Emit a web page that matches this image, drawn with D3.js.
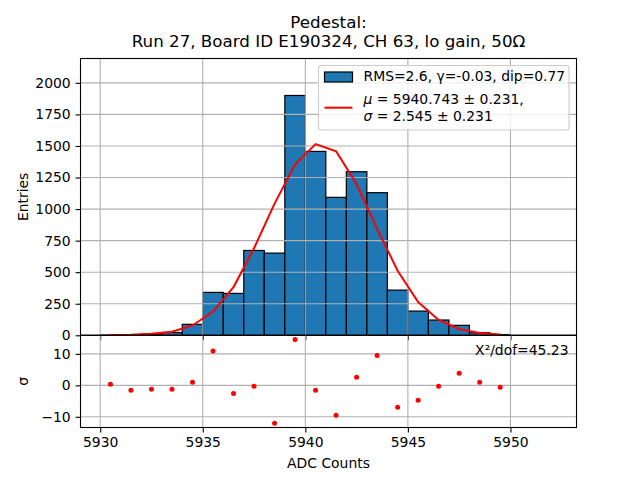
<!DOCTYPE html>
<html>
<head>
<meta charset="utf-8">
<script src="https://cdn.jsdelivr.net/npm/d3@7"></script>
<style>
  body { margin: 0; background: #fff; }
  svg { display: block; font-family: "DejaVu Sans", sans-serif; }
</style>
</head>
<body>
<svg id="chart" width="640" height="480"></svg>
<script>
// ---- data ----
const binLeft = [5930, 5931, 5932, 5933, 5934, 5935, 5936, 5937, 5938, 5939,
                 5940, 5941, 5942, 5943, 5944, 5945, 5946, 5947, 5948, 5949];
const counts  = [2, 2, 8, 22, 87, 340, 332, 672, 651, 1900,
                 1457, 1093, 1296, 1130, 358, 192, 121, 79, 20, 6];
const binCenters = [5930.5, 5931.5, 5932.5, 5933.5, 5934.5, 5935.5, 5936.5, 5937.5, 5938.5, 5939.5,
                    5940.5, 5941.5, 5942.5, 5943.5, 5944.5, 5945.5, 5946.5, 5947.5, 5948.5, 5949.5];
const fitValues = [2, 5, 13, 28, 78, 188, 382, 690, 1043, 1352,
                   1515, 1458, 1199, 843, 512, 263, 122, 50, 18, 6];
const residuals = [0.32, -1.6, -1.28, -1.28, 0.96, 10.9, -2.56, -0.3, -12.06, 14.6,
                   -1.59, -9.52, 2.54, 9.52, -6.98, -4.76, -0.32, 3.83, 0.96, -0.64];
const xTicks = [5930, 5935, 5940, 5945, 5950];
const yTopTicks = [0, 250, 500, 750, 1000, 1250, 1500, 1750, 2000];
const yBotTicks = [-10, 0, 10];
const titleLines = ["Pedestal:", "Run 27, Board ID E190324, CH 63, lo gain, 50Ω"];
const histLabel = "RMS=2.6, γ=-0.03, dip=0.77";
const chi2Label = "X²/dof=45.23";

// ---- layout ----
const L = 80.5, R = 576.5, T = 58.5, M = 335.3, B = 427.5;
const svg = d3.select("#chart");

const x = d3.scaleLinear().domain([5929.04, 5953.22]).range([L, R]);
const yTop = d3.scaleLinear().domain([0, 2193]).range([M, T]);
const yBot = d3.scaleLinear().domain([-13.4, 15.9]).range([B, M]);

const fmt = d => String(d).replace("-", "\u2212");
const gridColor = "#b0b0b0";

// ---- top panel ----
const topG = svg.append("g");
// bars
topG.selectAll("rect.bar").data(binLeft).join("rect")
  .attr("x", (d) => x(d))
  .attr("width", (d) => x(d + 1) - x(d))
  .attr("y", (d, i) => yTop(counts[i]))
  .attr("height", (d, i) => yTop(0) - yTop(counts[i]))
  .attr("fill", "#1f77b4")
  .attr("stroke", "#000")
  .attr("stroke-width", 1.2);
// grid (above patches)
topG.selectAll("line.gx").data(xTicks).join("line")
  .attr("x1", d => x(d)).attr("x2", d => x(d))
  .attr("y1", T).attr("y2", M)
  .attr("stroke", gridColor).attr("stroke-width", 1.1);
topG.selectAll("line.gy").data(yTopTicks).join("line")
  .attr("x1", L).attr("x2", R)
  .attr("y1", d => yTop(d)).attr("y2", d => yTop(d))
  .attr("stroke", gridColor).attr("stroke-width", 1.1);
// fit line
const line = d3.line().x((d, i) => x(binCenters[i])).y(d => yTop(d));
topG.append("path").datum(fitValues)
  .attr("d", line).attr("fill", "none")
  .attr("stroke", "red").attr("stroke-width", 2);

// top y axis
const axTop = d3.axisLeft(yTop).tickValues(yTopTicks).tickSize(4.9).tickPadding(4.9).tickFormat(fmt);
svg.append("g").attr("transform", `translate(${L},0)`).call(axTop)
  .call(g => g.select(".domain").remove())
  .call(g => g.selectAll("line").attr("stroke-width", 1.1))
  .call(g => g.selectAll("text").attr("font-size", 13.9).attr("font-family", "DejaVu Sans").attr("fill", "#000"));
// top x ticks (no labels)
svg.append("g").attr("transform", `translate(0,${M})`)
  .call(d3.axisBottom(x).tickValues(xTicks).tickSize(4.9).tickFormat(""))
  .call(g => g.selectAll("line").attr("stroke-width", 1.1))
  .call(g => g.select(".domain").remove());

// ---- bottom panel ----
const botG = svg.append("g");
botG.selectAll("line.gx").data(xTicks).join("line")
  .attr("x1", d => x(d)).attr("x2", d => x(d))
  .attr("y1", M).attr("y2", B)
  .attr("stroke", gridColor).attr("stroke-width", 1.1);
botG.selectAll("line.gy").data(yBotTicks).join("line")
  .attr("x1", L).attr("x2", R)
  .attr("y1", d => yBot(d)).attr("y2", d => yBot(d))
  .attr("stroke", gridColor).attr("stroke-width", 1.1);
botG.selectAll("circle").data(residuals).join("circle")
  .attr("cx", (d, i) => x(binCenters[i]))
  .attr("cy", d => yBot(d))
  .attr("r", 2.5)
  .attr("fill", "red");

svg.append("g").attr("transform", `translate(${L},0)`)
  .call(d3.axisLeft(yBot).tickValues(yBotTicks).tickSize(4.9).tickPadding(4.9).tickFormat(fmt))
  .call(g => g.select(".domain").remove())
  .call(g => g.selectAll("line").attr("stroke-width", 1.1))
  .call(g => g.selectAll("text").attr("font-size", 13.9).attr("font-family", "DejaVu Sans").attr("fill", "#000"));
svg.append("g").attr("transform", `translate(0,${B})`)
  .call(d3.axisBottom(x).tickValues(xTicks).tickSize(4.9).tickPadding(4.9).tickFormat(fmt))
  .call(g => g.select(".domain").remove())
  .call(g => g.selectAll("line").attr("stroke-width", 1.1))
  .call(g => g.selectAll("text").attr("font-size", 13.9).attr("font-family", "DejaVu Sans").attr("fill", "#000"));

// frames
svg.append("rect").attr("x", L).attr("y", T).attr("width", R - L).attr("height", M - T)
  .attr("fill", "none").attr("stroke", "#000").attr("stroke-width", 1.1);
svg.append("rect").attr("x", L).attr("y", M).attr("width", R - L).attr("height", B - M)
  .attr("fill", "none").attr("stroke", "#000").attr("stroke-width", 1.1);

// chi2 text
svg.append("text").attr("x", 568.5).attr("y", 354.5).attr("text-anchor", "end")
  .attr("font-size", 13.9).text(chi2Label);

// ---- legend ----
const lg = svg.append("g");
lg.append("rect").attr("x", 318.5).attr("y", 65.5).attr("width", 250.5).attr("height", 64.5)
  .attr("rx", 2.5).attr("fill", "#fff").attr("fill-opacity", 0.8)
  .attr("stroke", "#cccccc").attr("stroke-width", 1.1);
lg.append("rect").attr("x", 324.5).attr("y", 72).attr("width", 28).attr("height", 10)
  .attr("fill", "#1f77b4").attr("stroke", "#000").attr("stroke-width", 1.2);
lg.append("line").attr("x1", 324.5).attr("x2", 352.5).attr("y1", 107.7).attr("y2", 107.7)
  .attr("stroke", "red").attr("stroke-width", 2);
lg.append("text").attr("x", 363.5).attr("y", 81).attr("font-size", 13.9).text(histLabel);
const t1 = lg.append("text").attr("x", 363.5).attr("y", 103.5).attr("font-size", 13.9);
t1.append("tspan").attr("font-style", "italic").text("μ");
t1.append("tspan").text(" = 5940.743 ± 0.231,");
const t2 = lg.append("text").attr("x", 363.5).attr("y", 121).attr("font-size", 13.9);
t2.append("tspan").attr("font-style", "italic").text("σ");
t2.append("tspan").text(" = 2.545 ± 0.231");

// ---- titles & labels ----
svg.append("text").attr("x", 328.5).attr("y", 27.7).attr("text-anchor", "middle")
  .attr("font-size", 16.7).text(titleLines[0]);
svg.append("text").attr("x", 328.5).attr("y", 47).attr("text-anchor", "middle")
  .attr("font-size", 16.7).text(titleLines[1]);
svg.append("text").attr("x", 328.5).attr("y", 467.5).attr("text-anchor", "middle")
  .attr("font-size", 13.9).text("ADC Counts");
svg.append("text").attr("transform", `translate(27.5,${(T + M) / 2}) rotate(-90)`)
  .attr("text-anchor", "middle").attr("font-size", 13.9).text("Entries");
svg.append("text").attr("transform", `translate(27.5,${(M + B) / 2}) rotate(-90)`)
  .attr("text-anchor", "middle").attr("font-size", 13.9).text("σ");
</script>
</body>
</html>
